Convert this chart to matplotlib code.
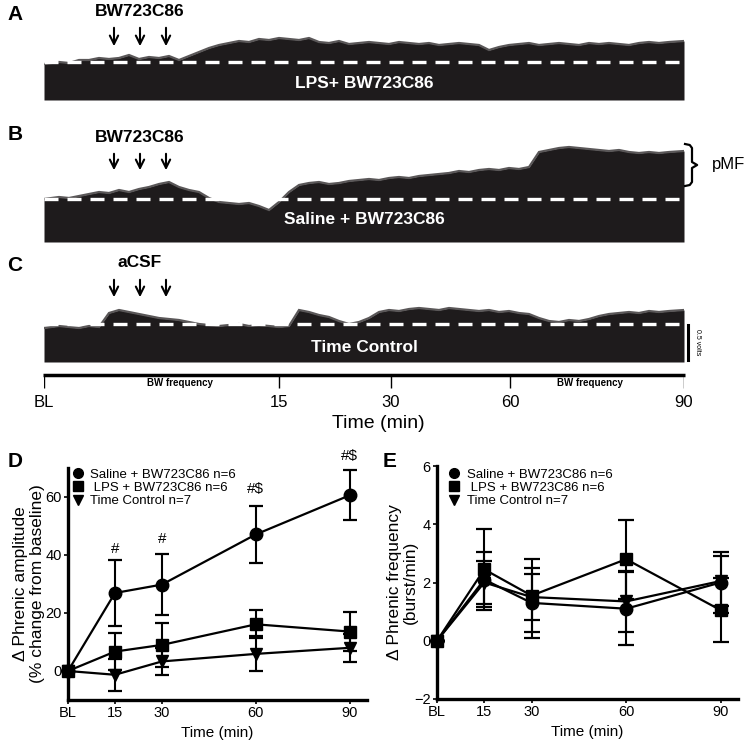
import matplotlib
matplotlib.use('Agg')
import matplotlib.pyplot as plt
import matplotlib.font_manager as fm
from matplotlib.lines import Line2D
import numpy as np

W, H = 746, 745

# envelope of the integrated phrenic traces (trace units: 70 units = 1 volt), one value per sample
trace_a = [36, 38, 37, 40, 40, 42, 41, 42, 45, 41, 43, 42, 44, 40, 44, 48, 52, 55,
           57, 59, 58, 61, 60, 62, 61, 60, 62, 58, 57, 59, 56, 57, 58, 57, 56, 58,
           57, 56, 57, 55, 56, 57, 56, 55, 50, 53, 55, 56, 57, 55, 56, 57, 56, 55,
           57, 56, 57, 56, 55, 57, 58, 57, 58, 59]
trace_b = [43, 45, 44, 46, 48, 50, 49, 52, 50, 53, 55, 58, 60, 55, 52, 50, 44, 40,
           39, 38, 39, 36, 32, 40, 50, 57, 59, 60, 58, 59, 61, 62, 63, 62, 64, 65,
           64, 66, 67, 68, 69, 71, 70, 72, 73, 72, 74, 73, 75, 90, 92, 94, 95, 94,
           93, 92, 91, 92, 90, 89, 90, 89, 90, 91]
trace_c = [34, 36, 35, 34, 36, 35, 49, 52, 50, 48, 46, 44, 43, 42, 40, 38, 37, 36,
           37, 38, 36, 37, 36, 35, 36, 52, 50, 47, 45, 41, 38, 40, 44, 50, 52, 51,
           53, 54, 53, 52, 54, 53, 52, 51, 52, 50, 51, 49, 48, 44, 41, 40, 42, 41,
           43, 46, 48, 49, 50, 49, 51, 50, 51, 52]
baseline_a, baseline_b, baseline_c = 38, 43, 38
injections = [7.0, 9.6, 12.2]
scale_bar_volts = 0.5
units_per_volt = 70

time_tick_pos = [0, 23.5, 34.7, 46.6, 64]
time_tick_labels = ['BL', '15', '30', '60', '90']
bw_freq_pos = [13.6, 54.6]

# panel D / E
time_min = [0, 15, 30, 60, 90]
time_labels = ['BL', '15', '30', '60', '90']
amp_saline = [0, 26.9, 29.8, 47.1, 60.6]
amp_saline_err = [0, 11.3, 10.4, 9.8, 8.7]
amp_lps = [0, 6.7, 9.0, 16.1, 13.6]
amp_lps_err = [0, 6.3, 7.5, 4.8, 6.6]
amp_tc = [0, -1.3, 3.3, 5.9, 8.0]
amp_tc_err = [0, 5.6, 4.7, 6.0, 4.9]
amp_marks = [(15, 42, '#'), (30, 45.5, '#'), (60, 62.8, '#$'), (90, 74, '#$')]

freq_saline = [0, 2.1, 1.3, 1.1, 2.0]
freq_saline_err = [0, 0.95, 1.2, 1.25, 1.05]
freq_lps = [0, 2.45, 1.55, 2.8, 1.05]
freq_lps_err = [0, 1.4, 1.25, 1.35, 1.1]
freq_tc = [0, 2.0, 1.5, 1.35, 2.05]
freq_tc_err = [0, 0.75, 0.8, 1.05, 0.85]

groups = ['Saline + BW723C86 n=6', ' LPS + BW723C86 n=6', 'Time Control n=7']
markers = ['o', 's', 'v']

names = {f.name for f in fm.fontManager.ttflist}
narrow = 'Liberation Sans Narrow' if 'Liberation Sans Narrow' in names else 'Liberation Sans'
plt.rcParams['font.family'] = ['Liberation Sans', 'DejaVu Sans']

INK = '#1e1b1c'


def px_axes(fig, x0, y0, x1, y1):
    return fig.add_axes([x0 / W, 1 - y1 / H, (x1 - x0) / W, (y1 - y0) / H])


def draw_trace(ax, env, baseline, label, top_label, arrow_top, arrow_bot, label_y):
    n = len(env)
    x = np.arange(n) + 0.5
    x[0], x[-1] = 0, n
    ax.fill_between(x, 0, env, color=INK, lw=0)
    ax.plot(x, env, color='#5a5758', lw=1.6, solid_joinstyle='miter')
    ax.axhline(baseline, color='white', lw=2.4, dashes=(4.2, 2.7))
    ax.text(32, label_y, label, color='white', ha='center', va='center',
            fontsize=12.5, fontweight='bold', family=narrow)
    ax.text(np.mean(injections), arrow_top + 14, top_label, ha='center', va='center',
            fontsize=12.5, fontweight='bold', family=narrow, clip_on=False)
    for xi in injections:
        ax.annotate('', xy=(xi, arrow_bot), xytext=(xi, arrow_top),
                    arrowprops=dict(arrowstyle='->,head_length=0.6,head_width=0.3',
                                    lw=1.5, color='black'), annotation_clip=False)
    ax.set_xlim(0, n)
    ax.axis('off')


fig = plt.figure(figsize=(W / 100, H / 100), dpi=100)

ax_a = px_axes(fig, 44, 0, 684, 100)
ax_a.set_ylim(0, 100)
draw_trace(ax_a, trace_a, baseline_a, 'LPS+ BW723C86', 'BW723C86', 75, 51, 16)

ax_b = px_axes(fig, 44, 120, 684, 242)
ax_b.set_ylim(0, 122)
draw_trace(ax_b, trace_b, baseline_b, 'Saline + BW723C86', 'BW723C86', 91, 69, 22)
# pMF bracket
tr = ax_b.get_yaxis_transform()
bx = [1.0016, 1.009, 1.0125, 1.0125, 1.0205, 1.0125, 1.0125, 1.009, 1.0016]
by = [98, 97, 94, 80, 77, 74, 60, 57, 56]
ax_b.plot(bx, by, color='black', lw=1.6, transform=tr, clip_on=False)
ax_b.text(1.043, 77, 'pMF', transform=tr, ha='left', va='center', fontsize=12, family=narrow)

ax_c = px_axes(fig, 44, 250, 684, 362)
ax_c.set_ylim(0, 112)
draw_trace(ax_c, trace_c, baseline_c, 'Time Control', 'aCSF', 85, 62, 14)
trc = ax_c.get_yaxis_transform()
ax_c.plot([1.007, 1.007], [2, 2 + scale_bar_volts * units_per_volt], color='black', lw=2.2,
          transform=trc, clip_on=False)
ax_c.text(1.021, 2 + scale_bar_volts * units_per_volt / 2, '0.5 volts', transform=trc,
          rotation=-90, ha='center', va='center', fontsize=5)

# time axis under the traces
ax_t = px_axes(fig, 44, 374, 684, 430)
ax_t.set_xlim(0, 64)
ax_t.set_ylim(0, 56)
ax_t.axis('off')
ax_t.plot([-0.1, 64.1], [55, 55], color='black', lw=2.5, solid_capstyle='butt', clip_on=False)
ax_t.vlines(time_tick_pos, 42, 55, color='black', lw=1)
for p, lab in zip(time_tick_pos, time_tick_labels):
    ax_t.text(p, 28, lab, ha='center', va='center', fontsize=12, family=narrow)
for p in bw_freq_pos:
    ax_t.text(p, 47, 'BW frequency', ha='center', va='center', fontsize=7,
              fontweight='bold', family=narrow)
ax_t.text(33.4, 7, 'Time (min)', ha='center', va='center', fontsize=14, family=narrow)


def style_stats(ax):
    for s in ['top', 'right']:
        ax.spines[s].set_visible(False)
    for s in ['left', 'bottom']:
        ax.spines[s].set_linewidth(2.4)
    ax.tick_params(width=1.2, length=3, labelsize=10.5, pad=1.5)
    ax.set_xticks(time_min)
    ax.set_xticklabels(time_labels)
    ax.set_xlim(0, 95.5)


def draw_groups(ax, series, errs, capsize):
    for vals, err, mk in zip(series, errs, markers):
        ms = 9 if mk == 'o' else 8.5
        ax.errorbar(time_min, vals, yerr=err, fmt='-' + mk, color='black', ms=ms,
                    lw=1.6, elinewidth=1.5, capsize=capsize, capthick=1.6, clip_on=False)
    handles = [Line2D([], [], marker=mk, ls='none', color='black', ms=7) for mk in markers]
    return handles


legend_kw = dict(loc='upper left', frameon=False, fontsize=9.5, handlelength=1,
                 handletextpad=0.45, labelspacing=0.08, borderpad=0, borderaxespad=0)

# panel D
ax_d = px_axes(fig, 68, 468, 367, 700)
style_stats(ax_d)
ax_d.set_ylim(-10, 70)
ax_d.set_yticks([0, 20, 40, 60])
h = draw_groups(ax_d, [amp_saline, amp_lps, amp_tc], [amp_saline_err, amp_lps_err, amp_tc_err], 5)
for x, y, s in amp_marks:
    ax_d.text(x, y, s, ha='center', va='center', fontsize=11, clip_on=False)
ax_d.set_xlabel('Time (min)', fontsize=11, labelpad=4)
ax_d.set_ylabel('\u0394 Phrenic amplitude\n(% change from baseline)', fontsize=12.5,
                labelpad=0.5, linespacing=1.1)
ax_d.legend(h, groups, bbox_to_anchor=(0.01, 0.998), **legend_kw)

# panel E
ax_e = px_axes(fig, 437, 466, 738, 699)
style_stats(ax_e)
ax_e.set_ylim(-2, 6)
ax_e.set_yticks([-2, 0, 2, 4, 6])
h = draw_groups(ax_e, [freq_saline, freq_lps, freq_tc], [freq_saline_err, freq_lps_err, freq_tc_err], 6)
ax_e.set_xlabel('Time (min)', fontsize=11, labelpad=4)
ax_e.set_ylabel('\u0394 Phrenic frequency\n(burst/min)', fontsize=12.5, labelpad=-3,
                linespacing=1.1)
ax_e.legend(h, groups, bbox_to_anchor=(0.035, 0.99), **legend_kw)

for lab, x, y in [('A', 15, 15), ('B', 15, 135), ('C', 15, 265), ('D', 15, 462), ('E', 390, 462)]:
    fig.text(x / W, 1 - y / H, lab, fontsize=15, fontweight='bold', ha='center', va='center',
             family=narrow)

fig.savefig('out.png', dpi=100)
